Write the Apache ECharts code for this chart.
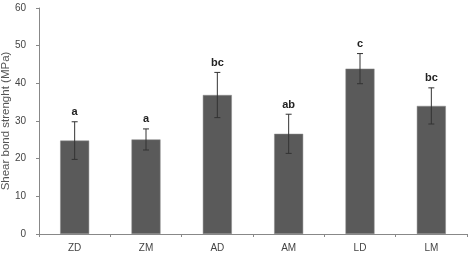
<!DOCTYPE html>
<html>
<head>
<meta charset="utf-8">
<script src="https://cdn.jsdelivr.net/npm/echarts@6/dist/echarts.min.js"></script>
<style>
  html, body { margin: 0; padding: 0; background: #fff; }
  #chart { width: 469px; height: 260px; }
</style>
</head>
<body>
<div id="chart"></div>
<script>
// Shear bond strength per group
const categories = ['ZD', 'ZM', 'AD', 'AM', 'LD', 'LM'];
const means = [24.8, 25.1, 36.9, 26.6, 43.9, 34.0];
const errors = [5.0, 2.8, 6.0, 5.2, 4.0, 4.8];
const letters = ['a', 'a', 'bc', 'ab', 'c', 'bc'];
const yTicks = [0, 10, 20, 30, 40, 50, 60];

const chart = echarts.init(document.getElementById('chart'));

// error bars + significance letters
function renderError(params, api) {
    const i = api.value(0);
    const m = api.value(1);
    const e = api.value(2);
    const top = api.coord([i, m + e]);
    const bot = api.coord([i, m - e]);
    const cap = 3;
    const style = { stroke: '#333', lineWidth: 1 };
    return {
        type: 'group',
        children: [
            { type: 'line', shape: { x1: top[0], y1: top[1], x2: bot[0], y2: bot[1] }, style: style },
            { type: 'line', shape: { x1: top[0] - cap, y1: top[1], x2: top[0] + cap, y2: top[1] }, style: style },
            { type: 'line', shape: { x1: bot[0] - cap, y1: bot[1], x2: bot[0] + cap, y2: bot[1] }, style: style },
            {
                type: 'text',
                x: top[0], y: top[1] - 4,
                style: {
                    text: letters[i],
                    fill: '#222',
                    font: 'bold 11px Arial, "Liberation Sans", sans-serif',
                    align: 'center',
                    verticalAlign: 'bottom'
                }
            }
        ]
    };
}

const option = {
    animation: false,
    grid: { left: 39, right: 2, top: 8, bottom: 26, containLabel: false, outerBoundsMode: 'none' },
    xAxis: {
        type: 'category',
        data: categories,
        axisLine: { lineStyle: { color: '#888', width: 1 } },
        axisTick: { show: true, length: 3, lineStyle: { color: '#888' } },
        axisLabel: {
            color: '#444',
            fontSize: 10,
            fontFamily: 'Arial, "Liberation Sans", sans-serif',
            margin: 9
        }
    },
    yAxis: {
        type: 'value',
        min: yTicks[0],
        max: yTicks[yTicks.length - 1],
        interval: 10,
        name: 'Shear bond strenght (MPa)',
        nameLocation: 'middle',
        nameGap: 27,
        nameMoveOverlap: false,
        nameTextStyle: {
            color: '#555',
            fontSize: 11.5,
            fontFamily: 'Arial, "Liberation Sans", sans-serif'
        },
        axisLine: { show: true, lineStyle: { color: '#888', width: 1 } },
        axisTick: { show: true, length: 3, lineStyle: { color: '#888' } },
        splitLine: { show: false },
        axisLabel: {
            color: '#444',
            fontSize: 10,
            fontFamily: 'Arial, "Liberation Sans", sans-serif',
            margin: 13
        }
    },
    series: [
        {
            type: 'bar',
            data: means,
            barWidth: 29,
            itemStyle: { color: '#5a5a5a', borderColor: '#8a8a8a', borderWidth: 0.5 }
        },
        {
            type: 'custom',
            renderItem: renderError,
            data: means.map((m, i) => [i, m, errors[i]]),
            z: 10
        }
    ]
};

chart.setOption(option);
</script>
</body>
</html>
